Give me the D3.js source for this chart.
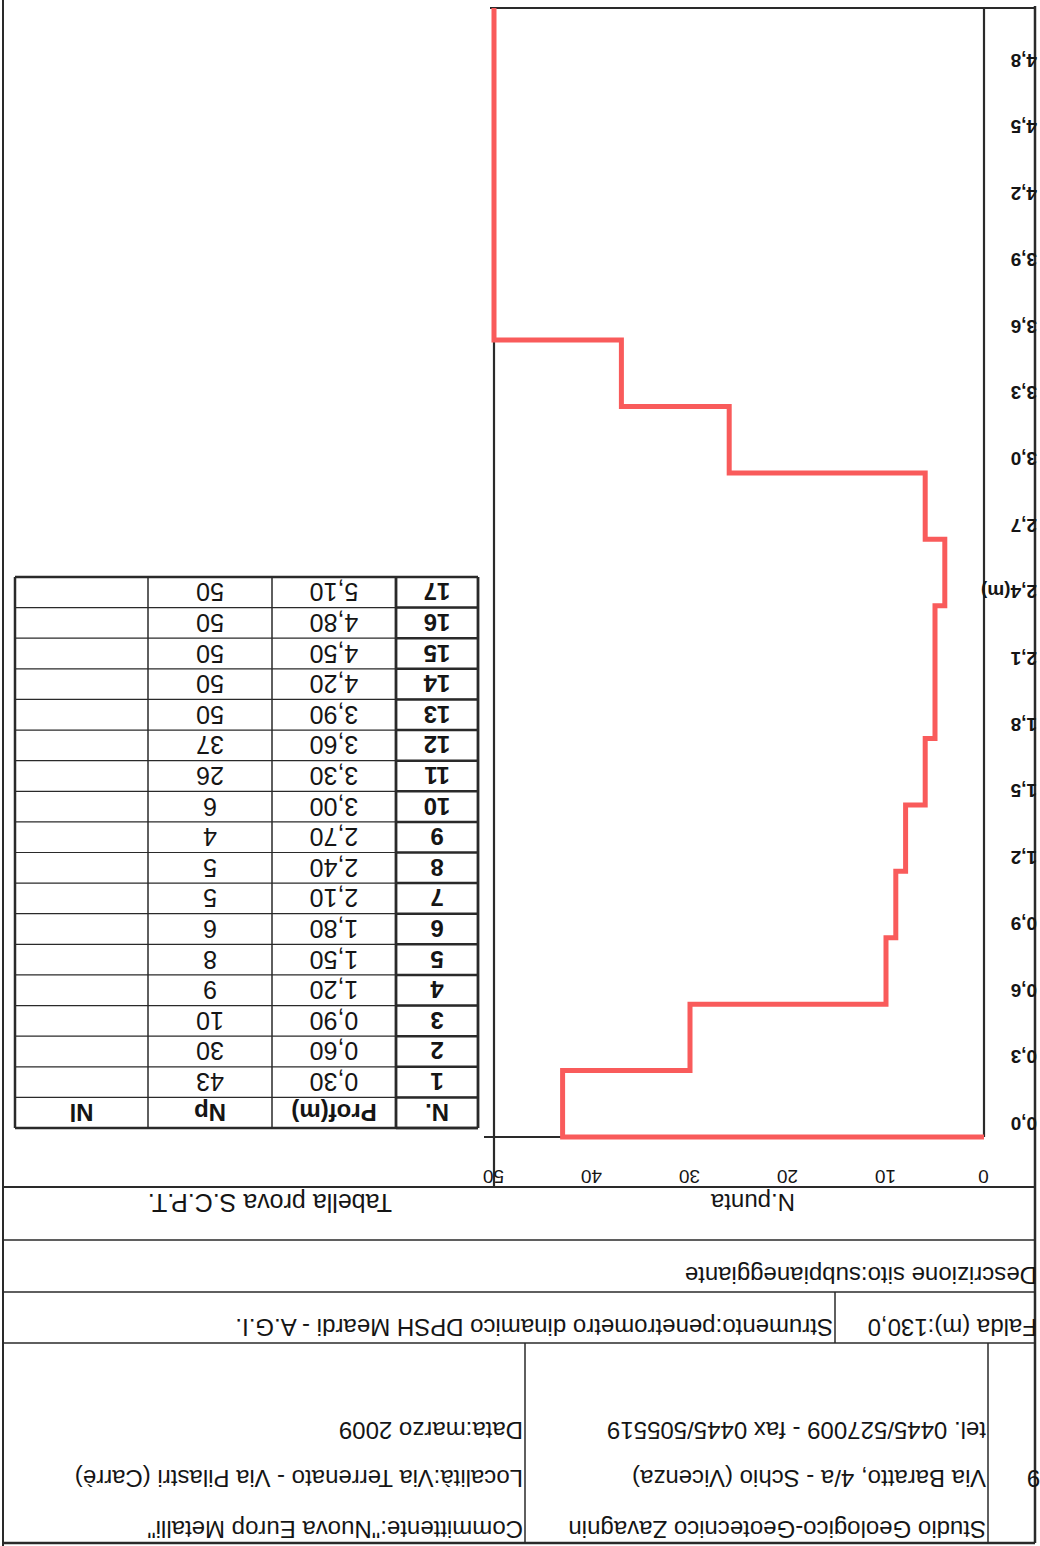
<!DOCTYPE html>
<html>
<head>
<meta charset="utf-8">
<script src="https://cdn.jsdelivr.net/npm/d3@7"></script>
<style>
  body { margin: 0; background: #fff; }
  text { font-family: "Liberation Sans", Arial, sans-serif; fill: #151515; }
</style>
</head>
<body>
<div id="chart"></div>
<script>
var nPunta = [1,2,3,4,5,6,7,8,9,10,11,12,13,14,15,16,17];
var prof = [0.30,0.60,0.90,1.20,1.50,1.80,2.10,2.40,2.70,3.00,3.30,3.60,3.90,4.20,4.50,4.80,5.10];
var np = [43,30,10,9,8,6,5,5,4,6,26,37,50,50,50,50,50];
var xTicks = [0,10,20,30,40,50];
var depthTicks = [0,0.3,0.6,0.9,1.2,1.5,1.8,2.1,2.4,2.7,3.0,3.3,3.6,3.9,4.2,4.5,4.8];
var tableHead = ["N.","Prof(m)","Np","Nl"];

var W = 1040, H = 1546;
var ink = "#2a2a2a";
var red = "#f95b5b";

var svg = d3.select("#chart").append("svg")
  .attr("width", W)
  .attr("height", H);
svg.append("rect").attr("width", W).attr("height", H).attr("fill", "#fff");

// the sheet is scanned upside down
var g = svg.append("g").attr("transform", "rotate(180," + W/2 + "," + H/2 + ")");

function hline(y, x1, x2, w) {
  g.append("line").attr("x1", x1).attr("x2", x2).attr("y1", y).attr("y2", y)
    .attr("stroke", ink).attr("stroke-width", w || 2);
}
function vline(x, y1, y2, w) {
  g.append("line").attr("x1", x).attr("x2", x).attr("y1", y1).attr("y2", y2)
    .attr("stroke", ink).attr("stroke-width", w || 2);
}
function label(txt, x, y, size, weight, anchor) {
  return g.append("text").text(txt)
    .attr("x", x).attr("y", y)
    .attr("font-size", size + "px")
    .attr("font-weight", weight || "normal")
    .attr("text-anchor", anchor || "start");
}

// frame + header block
vline(5, 3, 1540, 2.5);
vline(1037, 0, 1546, 2);
hline(3, 5, 1037, 2.5);
hline(203, 5, 1037, 1.5);
hline(254, 5, 1037, 1.5);
hline(306, 5, 1037, 1.5);
hline(359, 5, 1037, 2);
vline(52, 3, 203, 1.5);
vline(515, 3, 203, 1.5);
vline(205, 203, 254, 1.5);

label("9", 13, 76, 24, "normal", "end");
label("Studio Geologico-Geotecnico Zavagnin", 54, 25, 24);
label("Via Baratto, 4/a - Schio  (Vicenza)", 54, 76, 24);
label("tel. 0445/527009 - fax 0445/505519", 54, 124, 24);
label("Committente:\"Nuova Europ Metalli\"", 517, 25, 24);
label("Località:Via Terrenato - Via Pilastri (Carrè)", 517, 76, 24);
label("Data:marzo 2009", 517, 124, 24);
label("Falda (m):130,0", 3, 227, 24);
label("Strumento:penetrometro dinamico DPSH Meardi - A.G.I.", 207, 227, 24);
label("Descrizione sito:subpianeggiante", 3, 279, 24);
label("N.punta", 245, 352, 24);
label("Tabella prova S.C.P.T.", 648, 352, 25);

// grafico N.punta / profondita'
var x = d3.scaleLinear().domain([0, 50]).range([56, 546]);
var y = d3.scaleLinear().domain([0, 5.1]).range([409, 1538]);

hline(y(0), x(0), x(50) + 10, 2.2);
vline(x(0), y(0), y(5.1), 2.2);
vline(x(50), 359, y(5.1), 2.2);
hline(y(5.1), 5, x(50) + 4, 2.2);

var xAxis = g.append("g")
  .attr("transform", "translate(0," + y(0) + ")")
  .call(d3.axisTop(x).tickValues(xTicks).tickSize(0).tickPadding(33));
xAxis.select(".domain").remove();
xAxis.selectAll("text")
  .attr("font-size", "19px")
  .attr("fill", "#151515")
  .style("font-family", "'Liberation Sans', Arial, sans-serif");

var yAxis = g.append("g")
  .attr("transform", "translate(3,0)")
  .call(d3.axisRight(y).tickValues(depthTicks).tickSize(0).tickPadding(0)
    .tickFormat(function(d) {
      var s = d.toFixed(1).replace(".", ",");
      return d === 2.4 ? s + "(m)" : s;
    }));
yAxis.select(".domain").remove();
yAxis.selectAll("text")
  .attr("dy", null)
  .attr("y", 20)
  .attr("text-anchor", "start")
  .attr("font-size", "19px")
  .attr("font-weight", "bold")
  .attr("fill", "#151515")
  .style("font-family", "'Liberation Sans', Arial, sans-serif");

// profilo a gradini
var pts = [[0, 0]];
for (var i = 0; i < np.length; i++) {
  pts.push([np[i], prof[i] - 0.3]);
  pts.push([np[i], prof[i]]);
}
var line = d3.line()
  .x(function(d) { return x(d[0]); })
  .y(function(d) { return y(d[1]); });
g.append("path")
  .datum(pts)
  .attr("d", line)
  .attr("fill", "none")
  .attr("stroke", red)
  .attr("stroke-width", 5)
  .attr("stroke-linejoin", "miter");

// tabella
var colEdges = [562, 644, 768, 892, 1025];
var rowKeys = ["head"].concat(nPunta);
var row = d3.scaleBand().domain(rowKeys).range([418, 969]);

rowKeys.forEach(function(k) {
  hline(row(k), colEdges[0], colEdges[4], 1.2);
});
hline(969, colEdges[0], colEdges[4], 2.5);
hline(418, colEdges[0], colEdges[4], 2.5);
vline(colEdges[0], 418, 969, 2.8);
vline(colEdges[1], 418, 969, 2.8);
vline(colEdges[2], 418, 969, 1.5);
vline(colEdges[3], 418, 969, 1.5);
vline(colEdges[4], 418, 969, 2.5);
// bordi marcati colonna N.
rowKeys.forEach(function(k) {
  hline(row(k), colEdges[0], colEdges[1], 2.5);
});

function cx(c) { return (colEdges[c] + colEdges[c + 1]) / 2; }
var base = row.bandwidth() / 2 + 9;

tableHead.forEach(function(h, c) {
  label(h, cx(c), row("head") + base, 24, "bold", "middle");
});
nPunta.forEach(function(n, i) {
  label(n, cx(0), row(n) + base, 24, "bold", "middle");
  label(prof[i].toFixed(2).replace(".", ","), cx(1), row(n) + base, 25, "normal", "middle");
  label(np[i], cx(2), row(n) + base, 25, "normal", "middle");
});
</script>
</body>
</html>
